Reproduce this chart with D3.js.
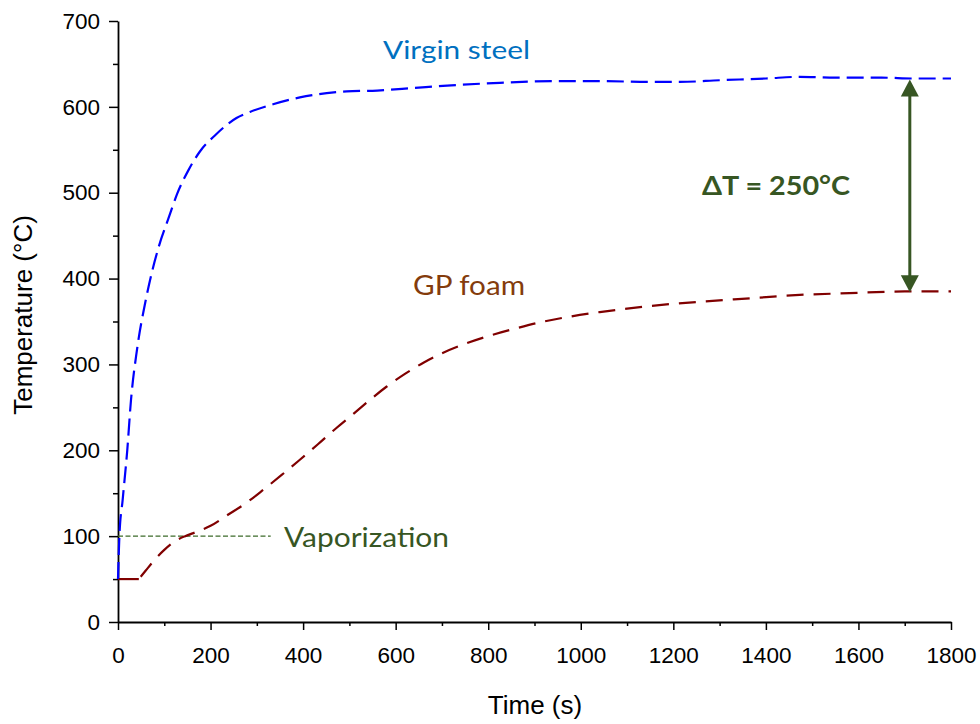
<!DOCTYPE html>
<html>
<head>
<meta charset="utf-8">
<script src="https://cdn.jsdelivr.net/npm/d3@7"></script>
<style>
  html, body { margin: 0; padding: 0; background: #fff; }
  svg { display: block; }
</style>
</head>
<body>
<svg id="chart" width="980" height="724"></svg>
<script>
// Virgin steel: time (s) and temperature (°C)
const steelTime = [0, 3, 10, 20, 28, 41, 60, 88, 109, 128, 152, 177, 210, 256, 285, 335, 393, 451, 494, 560, 640, 720, 825, 950, 1041, 1150, 1214, 1300, 1400, 1473, 1550, 1650, 1720, 1800];
const steelTemp = [50, 100, 142, 200, 258, 317, 375, 437, 470, 499, 526, 548, 567, 587, 594, 603, 611, 616, 618, 619, 622, 625, 628, 630, 630, 629, 629, 631, 633, 635, 634, 634, 633, 633];

// GP foam: time (s) and temperature (°C)
const foamTime = [0, 45, 60, 80, 100, 120, 145, 170, 200, 235, 278, 314, 353, 393, 432, 472, 510, 545, 580, 620, 660, 700, 750, 800, 860, 920, 980, 1041, 1100, 1149, 1257, 1365, 1473, 1581, 1700, 1800];
const foamTemp = [50, 50, 60, 73, 84, 93, 100, 105, 112, 124, 139, 154, 171, 189, 207, 226, 243, 259, 274, 289, 302, 313, 324, 333, 342, 350, 356, 361, 365, 368, 373, 377, 381, 383, 385, 385];

const xTicks = [0, 200, 400, 600, 800, 1000, 1200, 1400, 1600, 1800];
const yTicks = [0, 100, 200, 300, 400, 500, 600, 700];

const vaporTemp = 100;        // water vaporization level (°C)
const vaporEnd = 330;         // extent of the reference line (s)
const deltaTime = 1711;       // where the ΔT arrow is drawn (s)
const deltaTop = 632;
const deltaBottom = 384;

const svg = d3.select("#chart");
const x = d3.scaleLinear().domain([0, 1800]).range([118, 951]);
const y = d3.scaleLinear().domain([0, 700]).range([622, 21]);

const axisFont = '"Liberation Sans", Arial, sans-serif';
const noteFont = 'Lato, "Open Sans", sans-serif';

// minor ticks
svg.append("g")
  .attr("transform", `translate(0,${y(0)})`)
  .call(d3.axisBottom(x).tickValues(d3.range(100, 1800, 200)).tickSize(4).tickFormat(""))
  .call(g => g.select(".domain").remove())
  .selectAll("line").attr("stroke", "#000").attr("stroke-width", 1.5);
svg.append("g")
  .attr("transform", `translate(${x(0)},0)`)
  .call(d3.axisLeft(y).tickValues(d3.range(50, 700, 100)).tickSize(5).tickFormat(""))
  .call(g => g.select(".domain").remove())
  .selectAll("line").attr("stroke", "#000").attr("stroke-width", 1.5);

// major axes
const xAxis = svg.append("g")
  .attr("transform", `translate(0,${y(0)})`)
  .call(d3.axisBottom(x).tickValues(xTicks).tickSize(8).tickSizeOuter(0).tickPadding(17).tickFormat(d3.format("d")));
const yAxis = svg.append("g")
  .attr("transform", `translate(${x(0)},0)`)
  .call(d3.axisLeft(y).tickValues(yTicks).tickSize(9).tickSizeOuter(0).tickPadding(9).tickFormat(d3.format("d")));

[xAxis, yAxis].forEach(g => {
  g.select(".domain").attr("stroke", "#000").attr("stroke-width", 1.8);
  g.selectAll(".tick line").attr("stroke", "#000").attr("stroke-width", 1.5);
  g.selectAll(".tick text").attr("fill", "#000").style("font-size", "22.5px").style("font-family", axisFont);
});

// axis titles
svg.append("text")
  .attr("x", 535).attr("y", 714)
  .attr("text-anchor", "middle")
  .style("font-family", axisFont).style("font-size", "26px")
  .text("Time (s)");
svg.append("text")
  .attr("transform", `translate(32,${315}) rotate(-90)`)
  .attr("text-anchor", "middle")
  .style("font-family", axisFont).style("font-size", "26px")
  .text("Temperature (°C)");

// vaporization reference line
svg.append("line")
  .attr("x1", x(0)).attr("x2", x(vaporEnd))
  .attr("y1", y(vaporTemp)).attr("y2", y(vaporTemp))
  .attr("stroke", "#3d6b2a").attr("stroke-width", 1.2)
  .attr("stroke-dasharray", "5,2.5");

const line = d3.line().x(d => x(d[0])).y(d => y(d[1])).curve(d3.curveMonotoneX);

// GP foam: initial hold, then heating curve
const foam = foamTime.map((t, i) => [t, foamTemp[i]]);
svg.append("path")
  .attr("d", line(foam.slice(0, 2)))
  .attr("fill", "none").attr("stroke", "#800000").attr("stroke-width", 2.2);
svg.append("path")
  .attr("d", line(foam.slice(1)))
  .attr("fill", "none").attr("stroke", "#800000").attr("stroke-width", 2.2)
  .attr("stroke-dasharray", "0,3,17,7");

// Virgin steel
const steel = steelTime.map((t, i) => [t, steelTemp[i]]);
svg.append("path")
  .attr("d", line(steel))
  .attr("fill", "none").attr("stroke", "#0000ff").attr("stroke-width", 2.2)
  .attr("stroke-dasharray", "17,7");

// ΔT arrow
const green = "#375623";
const ax = x(deltaTime), yTop = y(deltaTop), yBot = y(deltaBottom);
const headH = 17, headW = 9;
svg.append("line")
  .attr("x1", ax).attr("x2", ax)
  .attr("y1", yTop + headH - 1).attr("y2", yBot - headH + 1)
  .attr("stroke", green).attr("stroke-width", 3);
svg.append("path")
  .attr("d", `M${ax},${yTop} L${ax - headW},${yTop + headH} L${ax + headW},${yTop + headH} Z`)
  .attr("fill", green);
svg.append("path")
  .attr("d", `M${ax},${yBot} L${ax - headW},${yBot - headH} L${ax + headW},${yBot - headH} Z`)
  .attr("fill", green);

// annotations
function note(txt, x0, y0, size, len, color, bold) {
  svg.append("text")
    .attr("x", x0).attr("y", y0)
    .attr("textLength", len).attr("lengthAdjust", "spacingAndGlyphs")
    .style("font-family", noteFont).style("font-size", size + "px")
    .style("font-weight", bold ? "bold" : "normal")
    .attr("fill", color)
    .text(txt);
}
note("Virgin steel", 383, 59, 25, 147, "#0070c0", false);
note("GP foam", 413, 295, 27, 112, "#843c0c", false);
note("Vaporization", 284, 547, 27, 165, green, false);
note("ΔT = 250°C", 702, 195, 26, 148, green, true);
</script>
</body>
</html>
